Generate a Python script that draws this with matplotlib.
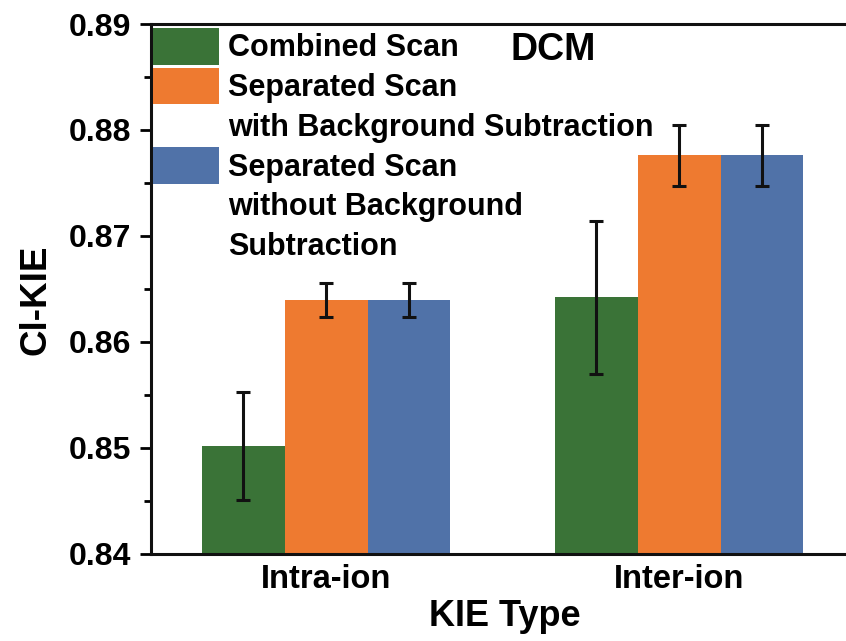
import numpy as np
import matplotlib
matplotlib.use("Agg")
import matplotlib.pyplot as plt
from matplotlib.patches import Patch
from matplotlib.legend_handler import HandlerPatch
from matplotlib.ticker import MultipleLocator

plt.rcParams['font.family'] = ['Liberation Sans', 'DejaVu Sans']
plt.rcParams['font.weight'] = 'bold'

# data
kie_types = ["Intra-ion", "Inter-ion"]
combined = [0.8502, 0.8642]
combined_err = [0.0051, 0.0072]
sep_bg = [0.8640, 0.8776]
sep_bg_err = [0.0016, 0.0029]
sep_nobg = [0.8640, 0.8776]
sep_nobg_err = [0.0016, 0.0029]

colors = ["#3a7337", "#ee7a30", "#5072a8"]

fig = plt.figure(figsize=(8.46, 6.41), dpi=100)
ax = fig.add_axes([151/846, 1 - 554/641, 1 - 151/846, 530/641])

x = np.arange(len(kie_types))
w = 0.235
ymin = 0.84
err_kw = dict(ecolor="#111111", elinewidth=2.2, capsize=5, capthick=2.2)

for off, vals, errs, c in [(-w, combined, combined_err, colors[0]),
                           (0, sep_bg, sep_bg_err, colors[1]),
                           (w, sep_nobg, sep_nobg_err, colors[2])]:
    ax.bar(x + off, np.array(vals) - ymin, w, bottom=ymin, color=c,
           yerr=errs, error_kw=err_kw, edgecolor="none", zorder=2)

ax.set_ylim(0.84, 0.89)
ax.set_xlim(-0.496, 0.473 + 1)
ax.yaxis.set_major_locator(MultipleLocator(0.01))
ax.yaxis.set_minor_locator(MultipleLocator(0.005))
ax.set_yticklabels([f"{v:.2f}" for v in ax.get_yticks()])
ax.set_xticks(x)
ax.set_xticklabels(kie_types)
ax.tick_params(axis='y', which='major', direction='out', length=8, width=2,
               labelsize=23, pad=6)
ax.tick_params(axis='y', which='minor', direction='out', length=5, width=2)
ax.tick_params(axis='x', length=0, labelsize=23.5, pad=7)
for lab in ax.get_xticklabels() + ax.get_yticklabels():
    lab.set_fontweight('bold')

for s in ['left', 'bottom', 'top']:
    ax.spines[s].set_linewidth(2.2)
    ax.spines[s].set_color("#111111")
ax.spines['right'].set_visible(False)

ax.set_ylabel("Cl-KIE", fontsize=26.5, fontweight='bold')
ax.yaxis.set_label_coords(-0.141, 0.479)
ax.set_xlabel("KIE Type", fontsize=26, fontweight='bold')
ax.xaxis.set_label_coords(0.509, -0.085)

ax.text(0.578, 0.951, "DCM", transform=ax.transAxes, fontsize=27,
        fontweight='bold', ha='center', va='center')

blank = Patch(facecolor='none', edgecolor='none')
handles = [Patch(facecolor=colors[0]), Patch(facecolor=colors[1]), blank,
           Patch(facecolor=colors[2]), blank, blank]
labels = ["Combined Scan", "Separated Scan", "with Background Subtraction",
          "Separated Scan", "without Background", "Subtraction"]
leg = ax.legend(handles, labels, loc='upper left',
                bbox_to_anchor=(0.003, 1 - 4/530), frameon=False,
                prop={'size': 22, 'weight': 'bold'},
                handler_map={Patch: HandlerPatch(ypad=0)},
                handlelength=2.16, handleheight=1.47, handletextpad=0.3,
                labelspacing=0.1, borderpad=0, borderaxespad=0)

fig.savefig("out.png", dpi=100)
